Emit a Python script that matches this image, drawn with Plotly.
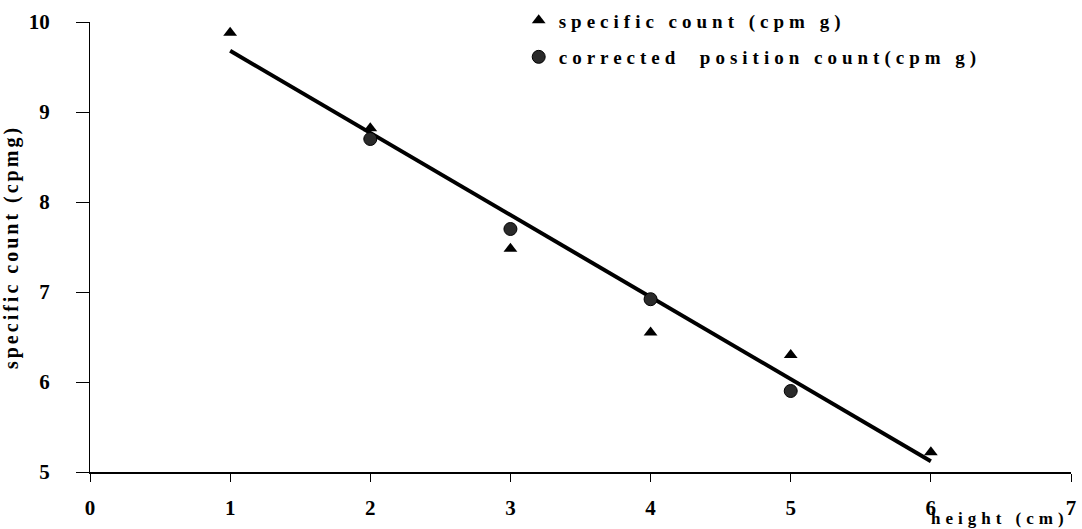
import plotly.graph_objects as go

heights = [1, 2, 3, 4, 5, 6]
specific_count = [9.88, 8.82, 7.48, 6.55, 6.3, 5.22]
corr_heights = [2, 3, 4, 5]
corrected_count = [8.7, 7.7, 6.92, 5.9]
fit_x = [1, 6]
fit_y = [9.68, 5.12]

x_ticks = [0, 1, 2, 3, 4, 5, 6, 7]
y_ticks = [5, 6, 7, 8, 9, 10]

SERIF = "Liberation Serif"
LS = '<span style="letter-spacing:5px">'

fig = go.Figure()
fig.add_trace(go.Scatter(
    x=fit_x, y=fit_y, mode="lines", line=dict(color="black", width=4),
    showlegend=False, hoverinfo="skip"))
fig.add_trace(go.Scatter(
    x=heights, y=specific_count, mode="markers",
    marker=dict(symbol="triangle-up", size=12, color="black"),
    name=LS + "specific count (cpm g)</span>", legendgroup="a"))
fig.add_trace(go.Scatter(
    x=corr_heights, y=corrected_count, mode="markers",
    marker=dict(symbol="circle", size=13, color="#2a2a2a",
                line=dict(color="black", width=1)),
    name=LS + "corrected  position count(cpm g)</span>", legendgroup="b"))

fig.update_layout(
    width=1082, height=529,
    margin=dict(l=90, r=11, t=22, b=57, autoexpand=False),
    paper_bgcolor="white", plot_bgcolor="white",
    font=dict(family=SERIF, color="black"),
    legend=dict(x=0.437, y=1.046, xanchor="left", yanchor="top",
                bgcolor="rgba(0,0,0,0)",
                font=dict(family=SERIF, size=19, color="black", weight=700),
                tracegroupgap=9, itemwidth=30),
    xaxis=dict(range=[0, 7], tickvals=x_ticks,
               showgrid=False, zeroline=False, showline=True, linecolor="black", linewidth=2,
               ticks="outside", ticklen=8, tickcolor="black", tickwidth=1,
               ticklabelstandoff=8,
               tickfont=dict(family=SERIF, size=21, color="black", weight=700)),
    yaxis=dict(range=[5, 10], tickvals=y_ticks,
               showgrid=False, zeroline=False, showline=True, linecolor="black", linewidth=1,
               ticks="outside", ticklen=13, tickcolor="black", tickwidth=1,
               ticklabelstandoff=22,
               tickfont=dict(family=SERIF, size=21, color="black", weight=700),
               title=dict(text="<span style=\"letter-spacing:3px\">specific count (cpmg)</span>",
                          standoff=12,
                          font=dict(family=SERIF, size=20, color="black", weight=700))),
)

fig.add_annotation(
    text=LS + "height (cm)</span>", xref="paper", yref="paper",
    x=1.0, y=-0.104, xanchor="right", yanchor="middle", showarrow=False,
    font=dict(family=SERIF, size=17, color="black", weight=700))

fig.write_html("out.html")
